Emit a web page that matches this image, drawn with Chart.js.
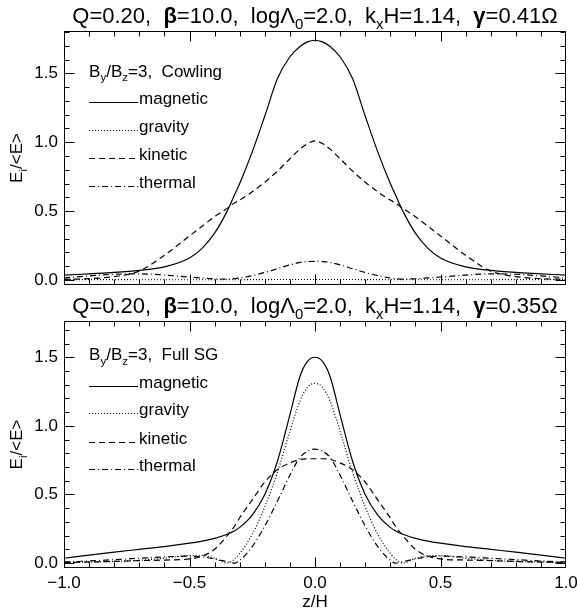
<!DOCTYPE html>
<html>
<head>
<meta charset="utf-8">
<title>Energy fractions vs z/H</title>
<script src="https://cdn.jsdelivr.net/npm/chart.js@4.4.0/dist/chart.umd.min.js"></script>
<style>
  html, body { margin: 0; padding: 0; background: #fff; }
  #wrap { position: relative; width: 578px; height: 613px; }
  #wrap canvas { position: absolute; left: 0; }
  #cowlingChart { top: 0; }
  #fullSgChart { top: 288px; }
</style>
</head>
<body>
<div id="wrap">
  <canvas id="cowlingChart" width="578" height="288"></canvas>
  <canvas id="fullSgChart" width="578" height="325"></canvas>
</div>
<script>
/* ============================================
   Energy fractions E_i/<E> against height z/H
   Top: Cowling approximation, bottom: full self-gravity
   ============================================ */

// Height grid shared by every curve
const zGrid = [-1.0, -0.9, -0.8, -0.7, -0.6, -0.5, -0.45, -0.4, -0.35, -0.32, -0.3, -0.25, -0.2, -0.15, -0.1, -0.06, -0.03,
               0.0, 0.03, 0.06, 0.1, 0.15, 0.2, 0.25, 0.3, 0.32, 0.35, 0.4, 0.45, 0.5, 0.6, 0.7, 0.8, 0.9, 1.0];

const seriesLabels = ['magnetic', 'gravity', 'kinetic', 'thermal'];

// Cowling run (gamma = 0.41 Omega)
const cowlingMagnetic = [0.035, 0.045, 0.055, 0.07, 0.095, 0.16, 0.23, 0.34, 0.50, 0.62, 0.70, 0.93, 1.19, 1.46, 1.62, 1.695, 1.728,
                         1.74, 1.728, 1.695, 1.62, 1.46, 1.19, 0.93, 0.70, 0.62, 0.50, 0.34, 0.23, 0.16, 0.095, 0.07, 0.055, 0.045, 0.035];
const cowlingGravity  = [0.004, 0.003, 0.003, 0.002, 0.002, 0.002, 0.002, 0.002, 0.002, 0.002, 0.002, 0.003, 0.003, 0.004, 0.004, 0.004, 0.004,
                         0.004, 0.004, 0.004, 0.004, 0.004, 0.003, 0.003, 0.002, 0.002, 0.002, 0.002, 0.002, 0.002, 0.002, 0.002, 0.003, 0.003, 0.004];
const cowlingKinetic  = [0.005, 0.01, 0.025, 0.065, 0.18, 0.32, 0.39, 0.46, 0.52, 0.56, 0.58, 0.64, 0.71, 0.79, 0.88, 0.95, 0.99,
                         1.01, 0.99, 0.95, 0.88, 0.79, 0.71, 0.64, 0.58, 0.56, 0.52, 0.46, 0.39, 0.32, 0.18, 0.065, 0.025, 0.01, 0.005];
const cowlingThermal  = [0.015, 0.03, 0.042, 0.045, 0.036, 0.022, 0.015, 0.009, 0.007, 0.01, 0.015, 0.032, 0.055, 0.082, 0.11, 0.128, 0.134,
                         0.135, 0.134, 0.128, 0.11, 0.082, 0.055, 0.032, 0.015, 0.01, 0.007, 0.009, 0.015, 0.022, 0.036, 0.045, 0.042, 0.03, 0.015];

// Full self-gravity run (gamma = 0.35 Omega)
const fullMagnetic = [0.035, 0.058, 0.08, 0.10, 0.12, 0.145, 0.16, 0.18, 0.21, 0.235, 0.26, 0.35, 0.50, 0.74, 1.08, 1.36, 1.47,
                      1.50, 1.47, 1.36, 1.08, 0.74, 0.50, 0.35, 0.26, 0.235, 0.21, 0.18, 0.16, 0.145, 0.12, 0.10, 0.08, 0.058, 0.035];
const fullGravity  = [0.004, 0.007, 0.012, 0.02, 0.035, 0.055, 0.055, 0.035, 0.0, 0.03, 0.07, 0.21, 0.41, 0.66, 0.96, 1.18, 1.28,
                      1.31, 1.28, 1.18, 0.96, 0.66, 0.41, 0.21, 0.07, 0.03, 0.0, 0.035, 0.055, 0.055, 0.035, 0.02, 0.012, 0.007, 0.004];
const fullKinetic  = [0.004, 0.008, 0.012, 0.018, 0.022, 0.03, 0.05, 0.10, 0.20, 0.27, 0.33, 0.46, 0.59, 0.68, 0.73, 0.755, 0.76,
                      0.76, 0.76, 0.755, 0.73, 0.68, 0.59, 0.46, 0.33, 0.27, 0.20, 0.10, 0.05, 0.03, 0.022, 0.018, 0.012, 0.008, 0.004];
const fullThermal  = [0.008, 0.015, 0.025, 0.035, 0.045, 0.05, 0.045, 0.03, 0.01, 0.0, 0.02, 0.12, 0.27, 0.45, 0.64, 0.77, 0.815,
                      0.83, 0.815, 0.77, 0.64, 0.45, 0.27, 0.12, 0.02, 0.0, 0.01, 0.03, 0.045, 0.05, 0.045, 0.035, 0.025, 0.015, 0.008];

// Tick labels
const xTickValues = [-1.0, -0.5, 0.0, 0.5, 1.0];
const yTickValues = [0.0, 0.5, 1.0, 1.5];

// Titles as text runs ({sub} = subscript, {bold})
const cowlingTitle = [{ t: 'Q=0.20,  ' }, { t: 'β', bold: true }, { t: '=10.0,  logΛ' }, { t: '0', sub: true },
                      { t: '=2.0,  k' }, { t: 'x', sub: true }, { t: 'H=1.14,  ' }, { t: 'γ', bold: true }, { t: '=0.41Ω' }];
const fullSgTitle  = [{ t: 'Q=0.20,  ' }, { t: 'β', bold: true }, { t: '=10.0,  logΛ' }, { t: '0', sub: true },
                      { t: '=2.0,  k' }, { t: 'x', sub: true }, { t: 'H=1.14,  ' }, { t: 'γ', bold: true }, { t: '=0.35Ω' }];
const cowlingHeader = [{ t: 'B' }, { t: 'y', sub: true }, { t: '/B' }, { t: 'z', sub: true }, { t: '=3,  Cowling' }];
const fullSgHeader  = [{ t: 'B' }, { t: 'y', sub: true }, { t: '/B' }, { t: 'z', sub: true }, { t: '=3,  Full SG' }];
const yAxisTitle = [{ t: 'E' }, { t: 'i', sub: true }, { t: '/<E>' }];
const xAxisTitle = [{ t: 'z/H' }];

const FONT = '"Liberation Sans", Arial, sans-serif';
const LINE_DASHES = [[], [1, 2], [6, 4], [6, 3, 1, 3]];

// legend placement in data units
const LEGEND_X = [-0.90, -0.705];
const LEGEND_HEADER_Y = 1.52;
const LEGEND_ROWS_Y = [1.29, 1.09, 0.885, 0.685];

Chart.defaults.font.family = FONT;
Chart.defaults.color = '#000';

/**
 * Draw a run of text pieces with optional subscripts
 */
function drawRuns(ctx, runs, x, y, size, align) {
    let width = 0;
    const parts = runs.map(r => {
        const fs = r.sub ? size * 0.68 : size;
        const font = `${r.bold ? 'bold ' : ''}${fs}px ${FONT}`;
        ctx.font = font;
        const w = ctx.measureText(r.t).width;
        width += w;
        return { r, font, w };
    });
    let cx = align === 'center' ? x - width / 2 : x;
    ctx.textBaseline = 'alphabetic';
    ctx.textAlign = 'left';
    parts.forEach(p => {
        ctx.font = p.font;
        ctx.fillText(p.r.t, cx, y + (p.r.sub ? size * 0.28 : 0));
        cx += p.w;
    });
}

/**
 * Frame, inward ticks, legend and titles for one panel
 */
const panelDecor = {
    id: 'panelDecor',
    afterDraw(chart, args, opts) {
        const { ctx, chartArea: a, scales: { x, y } } = chart;
        ctx.save();
        ctx.strokeStyle = '#000';
        ctx.fillStyle = '#000';
        ctx.lineWidth = 1;

        const L = Math.round(a.left) + 0.5, R = Math.round(a.right) - 0.5;
        const T = Math.round(a.top) + 0.5, B = Math.round(a.bottom) - 0.5;
        ctx.strokeRect(L, T, R - L, B - T);

        ctx.beginPath();
        for (let k = -9; k <= 9; k++) {
            const px = Math.round(x.getPixelForValue(k / 10)) + 0.5;
            const len = k % 5 === 0 ? 10 : 5;
            ctx.moveTo(px, B); ctx.lineTo(px, B - len);
            ctx.moveTo(px, T); ctx.lineTo(px, T + len);
        }
        for (let k = Math.ceil(y.min * 10); k <= Math.floor(y.max * 10); k++) {
            const py = Math.round(y.getPixelForValue(k / 10)) + 0.5;
            const len = k % 5 === 0 ? 10 : 5;
            ctx.moveTo(L, py); ctx.lineTo(L + len, py);
            ctx.moveTo(R, py); ctx.lineTo(R - len, py);
        }
        ctx.stroke();

        // legend
        const x0 = x.getPixelForValue(LEGEND_X[0]);
        const x1 = x.getPixelForValue(LEGEND_X[1]);
        drawRuns(ctx, opts.header, x0, y.getPixelForValue(LEGEND_HEADER_Y) + 6, 17, 'left');
        chart.data.datasets.forEach((ds, i) => {
            const py = Math.round(y.getPixelForValue(LEGEND_ROWS_Y[i])) + 0.5;
            ctx.lineWidth = ds.borderWidth;
            ctx.setLineDash(ds.borderDash);
            ctx.beginPath();
            ctx.moveTo(x0, py);
            ctx.lineTo(x1, py);
            ctx.stroke();
            ctx.setLineDash([]);
            drawRuns(ctx, [{ t: ds.label }], x1 + 1, py + 1, 17, 'left');
        });

        // panel title and axis titles
        const cxm = (a.left + a.right) / 2;
        drawRuns(ctx, opts.title, cxm, a.top - 8, 22, 'center');
        ctx.save();
        ctx.translate(22, (a.top + a.bottom) / 2);
        ctx.rotate(-Math.PI / 2);
        drawRuns(ctx, yAxisTitle, 0, 0, 17, 'center');
        ctx.restore();
        if (opts.showXTitle) {
            drawRuns(ctx, xAxisTitle, cxm, a.bottom + 39, 17, 'center');
        }
        ctx.restore();
    }
};

function tickText(v) {
    return (v < 0 ? '\u2212' : '') + Math.abs(v).toFixed(1);
}

// keep tick labels from pushing the plot area around
function noLabelPadding(s) {
    s.paddingTop = 0;
    s.paddingBottom = 0;
    s.paddingLeft = 0;
    s.paddingRight = 0;
}

/**
 * Build one panel
 */
function makePanel(canvasId, series, yMin, yMax, opts) {
    const ctx = document.getElementById(canvasId).getContext('2d');
    return new Chart(ctx, {
        type: 'line',
        data: {
            datasets: series.map((values, i) => ({
                label: seriesLabels[i],
                data: zGrid.map((z, j) => ({ x: z, y: values[j] })),
                borderColor: '#000',
                borderWidth: 1.2,
                borderDash: LINE_DASHES[i],
                pointRadius: 0,
                cubicInterpolationMode: 'monotone',
                fill: false
            }))
        },
        options: {
            responsive: false,
            animation: false,
            devicePixelRatio: 1,
            layout: { padding: { left: 0, right: 12, top: opts.top, bottom: 0 } },
            plugins: {
                legend: { display: false },
                tooltip: { enabled: false },
                panelDecor: opts
            },
            scales: {
                x: {
                    type: 'linear',
                    min: -1, max: 1,
                    grid: { display: false, drawTicks: false },
                    border: { display: false },
                    afterBuildTicks: s => { s.ticks = xTickValues.map(v => ({ value: v })); },
                    afterFit: s => { s.height = opts.xHeight; noLabelPadding(s); },
                    ticks: {
                        display: opts.showXTitle,
                        maxRotation: 0,
                        padding: 5,
                        font: { size: 17 },
                        callback: v => tickText(v)
                    }
                },
                y: {
                    min: yMin, max: yMax,
                    grid: { display: false, drawTicks: false },
                    border: { display: false },
                    afterBuildTicks: s => { s.ticks = yTickValues.map(v => ({ value: v })); },
                    afterFit: s => { s.width = 64; noLabelPadding(s); },
                    ticks: {
                        padding: 6,
                        font: { size: 17 },
                        callback: v => tickText(v)
                    }
                }
            }
        },
        plugins: [panelDecor]
    });
}

makePanel('cowlingChart', [cowlingMagnetic, cowlingGravity, cowlingKinetic, cowlingThermal], -0.036, 1.807,
    { top: 31, xHeight: 3, title: cowlingTitle, header: cowlingHeader, showXTitle: false });
makePanel('fullSgChart', [fullMagnetic, fullGravity, fullKinetic, fullThermal], -0.036, 1.764,
    { top: 33, xHeight: 45, title: fullSgTitle, header: fullSgHeader, showXTitle: true });
</script>
</body>
</html>
